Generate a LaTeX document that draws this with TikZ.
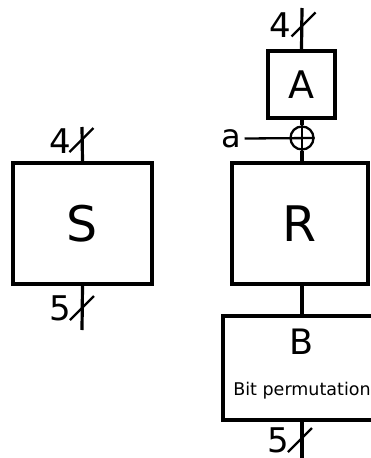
\documentclass[tikz,border=0pt]{standalone}
\usepackage{fontspec}
\setmainfont{DejaVu Sans}
\tikzset{
  box/.style={draw, line width=3.4pt, inner sep=0pt},
  wire/.style={line width=3.2pt},
  busmark/.style={line width=2.3pt},
  lbl/.style={inner sep=0pt, font=\fontsize{34}{34}\selectfont},
}
\begin{document}
\begin{tikzpicture}[x=1pt,y=-1pt]
            \useasboundingbox (0,0) rectangle (371,458);
            \node[box, minimum width=139pt, minimum height=121pt, font=\fontsize{49}{49}\selectfont] (S) at (82.5,223.5) {S};
            \node[box, minimum width=67pt, minimum height=67pt, font=\fontsize{38}{38}\selectfont] (A) at (301.5,84.5) {A};
            \node[draw, circle, line width=2.3pt, minimum size=23pt, inner sep=0pt] (xor) at (302,138) {};
            \node[box, minimum width=136pt, minimum height=121pt, font=\fontsize{49}{49}\selectfont] (R) at (300,223.5) {R};
            \node[box, minimum width=158pt, minimum height=104pt] (Bbox) at (302,368) {};
            \node[inner sep=0pt, font=\fontsize{35}{35}\selectfont] (B) at (302,342) {B};
            \node[inner sep=0pt, anchor=base, font=\fontsize{17.5}{17.5}\selectfont] (Bperm) at (302,395) {Bit permutation};
            \node[lbl, font=\fontsize{32}{32}\selectfont] (a) at (231.5,138.5) {a};
            \coordinate (Sin) at (82,127);
            \coordinate (Sout) at (82,330);
            \coordinate (Ain) at (302,8);
            \coordinate (Bout) at (302,462);
            \draw[wire] (Sin) -- (S.north);
            \draw[wire] (S.south) -- (Sout);
            \draw[wire] (Ain) -- (A.south |- A.north);
            \draw[wire] (A.south -| xor) -- (xor.north);
            \draw[wire] (xor.south) -- (R.north -| xor);
            \draw[wire] (R.south -| xor) -- (Bbox.north -| xor);
            \draw[wire] (Bbox.south -| Bout) -- (Bout);
            \draw[busmark] (xor.north) -- (xor.south);
            \draw[busmark] (a.east) ++(3,0) -- (xor.east);
            \coordinate (m1) at (81.5,140);
            \coordinate (m2) at (303.5,24.5);
            \coordinate (m3) at (82,308);
            \coordinate (m4) at (300,440);
            \draw[busmark] (m1) ++(-12,12) -- ++(24,-24);
            \draw[busmark] (m2) ++(-12,12) -- ++(24,-24);
            \draw[busmark] (m3) ++(-12,12) -- ++(24,-24);
            \draw[busmark] (m4) ++(-12,12) -- ++(24,-24);
            \node[lbl] (w1) at (60,141) {4};
            \node[lbl] (w2) at (280,25.5) {4};
            \node[lbl] (w3) at (60,308.5) {5};
            \node[lbl] (w4) at (278.5,440.5) {5};
        \end{tikzpicture}
\end{document}
